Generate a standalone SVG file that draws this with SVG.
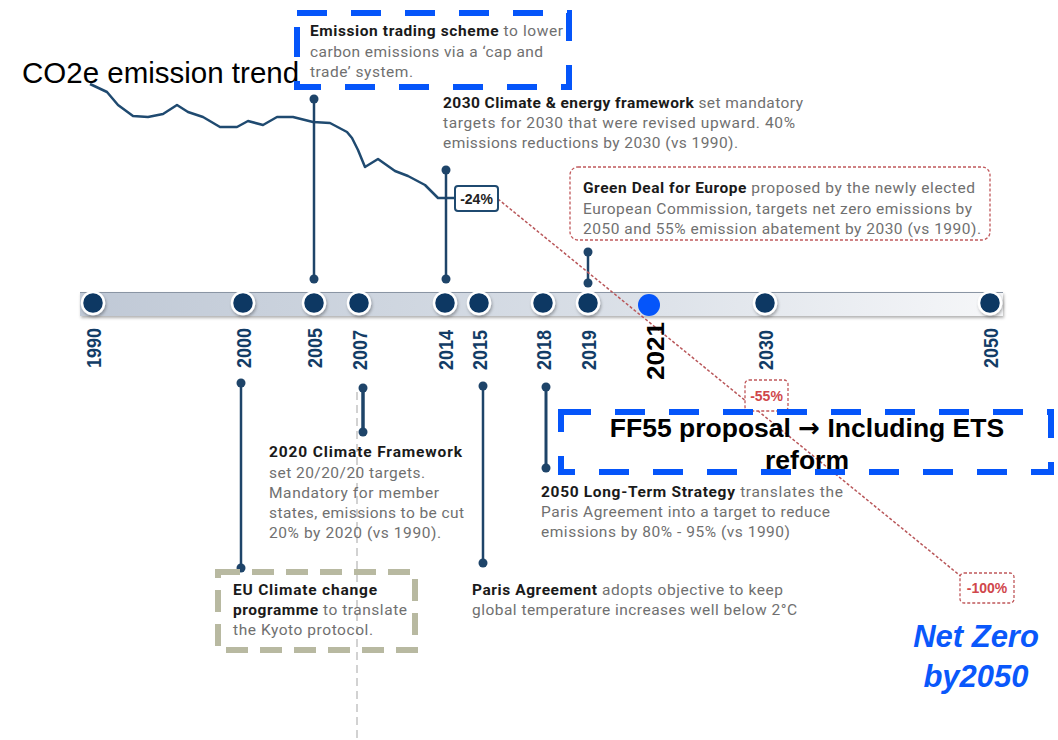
<svg xmlns="http://www.w3.org/2000/svg" width="1058" height="740" viewBox="0 0 1058 740">
<defs>
<linearGradient id="barg" x1="0" y1="0" x2="1" y2="0">
<stop offset="0" stop-color="#c0c9d6"/>
<stop offset="0.55" stop-color="#d8dee6"/>
<stop offset="1" stop-color="#f6f7f9"/>
</linearGradient>
<filter id="sh" x="-30%" y="-30%" width="160%" height="160%">
<feDropShadow dx="1" dy="2" stdDeviation="1.5" flood-color="#000" flood-opacity="0.3"/>
</filter>
<style>
.yr{font-family:"Liberation Sans",Arial,sans-serif;font-weight:bold;font-size:20px;fill:#123c66}
.tx{font-family:Roboto,"Liberation Sans",Arial,sans-serif;font-size:15.5px;fill:#707070}
.b{font-weight:700;fill:#1a1a1a}
.stem{stroke:#1e4469;stroke-width:2.5;fill:none}
.dot{fill:#1e4469}
.node{fill:#0b3764;stroke:#fff;stroke-width:2.5}
.blue{fill:none;stroke:#0555fa;stroke-width:6;stroke-dasharray:30 24}
.redbox{fill:#fff;stroke:#c0585b;stroke-width:1.3;stroke-dasharray:3 2}
.pct{font-family:"Liberation Sans",Arial,sans-serif;font-weight:700;font-size:14px;fill:#d0474b;text-anchor:middle}
.big{font-family:"Liberation Sans",Arial,sans-serif;font-weight:bold;font-size:26.5px;fill:#000;text-anchor:middle}
</style>
</defs>
<rect width="1058" height="740" fill="#fff"/>

<text x="22" y="83" font-family="Liberation Sans,Arial,sans-serif" font-size="29.5" fill="#000">CO2e emission trend</text>

<line x1="357" y1="392" x2="357" y2="740" stroke="#d2d2d2" stroke-width="2" stroke-dasharray="8 5"/>

<polyline fill="none" stroke="#1f4a70" stroke-width="2.5" stroke-linejoin="round" points="90,84 107,92 118,105 133,116 148,117 163,114 177,105 188,112 203,117 220,127 237,127 248,121 263,125 277,117 293,117 313,122 330,123 347,132 352,138 358,150 365,167 378,159 395,171 408,176 425,185 438,198 455,198"/>

<g id="bar">
<rect x="80" y="292" width="923" height="24" fill="url(#barg)" filter="url(#sh)"/>
<line x1="80" y1="292.5" x2="1003" y2="292.5" stroke="#8a95a4" stroke-width="1.2"/>
</g>

<g id="connectors">
<g class="stem">
<line x1="314" y1="99" x2="314" y2="279"/>
<line x1="446" y1="170" x2="446" y2="279"/>
<line x1="588" y1="252" x2="588" y2="283"/>
<line x1="241" y1="383" x2="241" y2="568"/>
<line x1="363" y1="388" x2="363" y2="432" stroke-width="3.5"/>
<line x1="483" y1="386" x2="483" y2="563"/>
<line x1="546" y1="387" x2="546" y2="468" stroke-width="3"/>
</g>
<g class="dot">
<circle cx="314" cy="99" r="4.5"/><circle cx="314" cy="279" r="4.5"/>
<circle cx="446" cy="170" r="4.5"/><circle cx="446" cy="279" r="4.5"/>
<circle cx="588" cy="252" r="4.5"/><circle cx="588" cy="283" r="4.5"/>
<circle cx="241" cy="383" r="4.5"/><circle cx="241" cy="568" r="4.5"/>
<circle cx="363" cy="388" r="4.5"/><circle cx="363" cy="432" r="4.5"/>
<circle cx="483" cy="386" r="4.5"/><circle cx="483" cy="563" r="4.5"/>
<circle cx="546" cy="387" r="4.5"/><circle cx="546" cy="468" r="4.5"/>
</g>
<line x1="498" y1="199" x2="963" y2="578" stroke="#b9575a" stroke-width="1.5" stroke-dasharray="3 2"/>
</g>

<g id="y1990"><circle class="node" cx="93" cy="303" r="11" filter="url(#sh)"/><text class="yr" text-anchor="end" textLength="40" lengthAdjust="spacingAndGlyphs" transform="translate(100.5,328) rotate(-90)">1990</text></g>
<g id="y2000"><circle class="node" cx="243" cy="303" r="11" filter="url(#sh)"/><text class="yr" text-anchor="end" textLength="40" lengthAdjust="spacingAndGlyphs" transform="translate(250.5,328) rotate(-90)">2000</text></g>
<g id="y2005"><circle class="node" cx="314" cy="303" r="11" filter="url(#sh)"/><text class="yr" text-anchor="end" textLength="40" lengthAdjust="spacingAndGlyphs" transform="translate(321.5,328) rotate(-90)">2005</text></g>
<g id="y2007"><circle class="node" cx="359" cy="303" r="11" filter="url(#sh)"/><text class="yr" text-anchor="end" textLength="40" lengthAdjust="spacingAndGlyphs" transform="translate(366.5,330) rotate(-90)">2007</text></g>
<g id="y2014"><circle class="node" cx="445" cy="303" r="11" filter="url(#sh)"/><text class="yr" text-anchor="end" textLength="40" lengthAdjust="spacingAndGlyphs" transform="translate(452.5,330) rotate(-90)">2014</text></g>
<g id="y2015"><circle class="node" cx="479" cy="303" r="11" filter="url(#sh)"/><text class="yr" text-anchor="end" textLength="40" lengthAdjust="spacingAndGlyphs" transform="translate(486.5,330) rotate(-90)">2015</text></g>
<g id="y2018"><circle class="node" cx="543" cy="303" r="11" filter="url(#sh)"/><text class="yr" text-anchor="end" textLength="40" lengthAdjust="spacingAndGlyphs" transform="translate(550.5,330) rotate(-90)">2018</text></g>
<g id="y2019"><circle class="node" cx="588" cy="303" r="11" filter="url(#sh)"/><text class="yr" text-anchor="end" textLength="40" lengthAdjust="spacingAndGlyphs" transform="translate(595.5,330) rotate(-90)">2019</text></g>
<g id="y2021"><circle cx="649" cy="305" r="11" fill="#0555fa"/><text font-family="Liberation Sans,Arial,sans-serif" font-weight="bold" font-size="24" fill="#000" text-anchor="end" textLength="58" lengthAdjust="spacingAndGlyphs" transform="translate(664,322) rotate(-90)">2021</text></g>
<g id="y2030"><circle class="node" cx="765" cy="303" r="11" filter="url(#sh)"/><text class="yr" text-anchor="end" textLength="40" lengthAdjust="spacingAndGlyphs" transform="translate(772.5,330) rotate(-90)">2030</text></g>
<g id="y2050"><circle class="node" cx="990" cy="303" r="11" filter="url(#sh)"/><text class="yr" text-anchor="end" textLength="40" lengthAdjust="spacingAndGlyphs" transform="translate(997.5,328) rotate(-90)">2050</text></g>

<g id="ets">
<rect class="blue" x="297" y="13" width="272" height="74"/>
<text class="tx" x="310" y="36" textLength="253"><tspan class="b">Emission trading scheme</tspan> to lower</text>
<text class="tx" x="310" y="57" textLength="233">carbon emissions via a ‘cap and</text>
<text class="tx" x="310" y="77" textLength="103">trade’ system.</text>
</g>

<g id="fw2030">
<text class="tx" x="443" y="108" textLength="360"><tspan class="b">2030 Climate &amp; energy framework</tspan> set mandatory</text>
<text class="tx" x="443" y="128" textLength="352">targets for 2030 that were revised upward. 40%</text>
<text class="tx" x="443" y="148" textLength="295">emissions reductions by 2030 (vs 1990).</text>
</g>

<g id="p24">
<rect x="455" y="186" width="43" height="25" rx="3" fill="#fff" stroke="#1f4a70" stroke-width="2"/>
<text x="476.5" y="203.5" font-family="Liberation Sans,Arial,sans-serif" font-weight="700" font-size="14" fill="#222" text-anchor="middle">-24%</text>
</g>

<g id="greendeal">
<rect class="redbox" x="570" y="167" width="420" height="73" rx="8"/>
<text class="tx" x="583" y="193" textLength="392"><tspan class="b">Green Deal for Europe</tspan> proposed by the newly elected</text>
<text class="tx" x="583" y="214" textLength="389">European Commission, targets net zero emissions by</text>
<text class="tx" x="583" y="234" textLength="398">2050 and 55% emission abatement by 2030 (vs 1990).</text>
</g>

<g id="fw2020">
<text class="tx" x="269" y="457" textLength="193"><tspan class="b">2020 Climate Framework</tspan></text>
<text class="tx" x="269" y="478" textLength="156">set 20/20/20 targets.</text>
<text class="tx" x="269" y="498" textLength="170">Mandatory for member</text>
<text class="tx" x="269" y="518" textLength="195">states, emissions to be cut</text>
<text class="tx" x="269" y="538" textLength="172">20% by 2020 (vs 1990).</text>
</g>

<g id="eucc">
<rect x="218" y="572" width="197" height="78" fill="none" stroke="#b8b9a1" stroke-width="6" stroke-dasharray="22 12"/>
<text class="tx" x="233" y="595" textLength="144"><tspan class="b">EU Climate change</tspan></text>
<text class="tx" x="233" y="615" textLength="174"><tspan class="b">programme</tspan> to translate</text>
<text class="tx" x="233" y="635" textLength="140">the Kyoto protocol.</text>
</g>

<g id="paris">
<text class="tx" x="472" y="595" textLength="311"><tspan class="b">Paris Agreement</tspan> adopts objective to keep</text>
<text class="tx" x="472" y="615" textLength="325">global temperature increases well below 2°C</text>
</g>

<g id="lts2050">
<text class="tx" x="541" y="497" textLength="302"><tspan class="b">2050 Long-Term Strategy</tspan> translates the</text>
<text class="tx" x="541" y="517" textLength="289">Paris Agreement into a target to reduce</text>
<text class="tx" x="541" y="537" textLength="249">emissions by 80% - 95% (vs 1990)</text>
</g>

<g id="p55">
<rect class="redbox" x="745" y="380" width="43" height="31" rx="4"/>
<text class="pct" x="766.5" y="401">-55%</text>
</g>

<g id="ff55">
<rect class="blue" x="561" y="412" width="490" height="60"/>
<text class="big" x="807" y="437">FF55 proposal <tspan font-family="DejaVu Sans,sans-serif" font-size="26">→</tspan> Including ETS</text>
<text class="big" x="807" y="469">reform</text>
</g>

<g id="p100">
<rect class="redbox" x="960" y="573" width="54" height="30" rx="4"/>
<text class="pct" x="987" y="593">-100%</text>
</g>

<g id="netzero">
<text x="976" y="647" font-family="Liberation Sans,Arial,sans-serif" font-weight="bold" font-style="italic" font-size="31" fill="#0a58fb" text-anchor="middle">Net Zero</text>
<text x="976" y="687" font-family="Liberation Sans,Arial,sans-serif" font-weight="bold" font-style="italic" font-size="31" fill="#0a58fb" text-anchor="middle">by2050</text>
</g>
</svg>
